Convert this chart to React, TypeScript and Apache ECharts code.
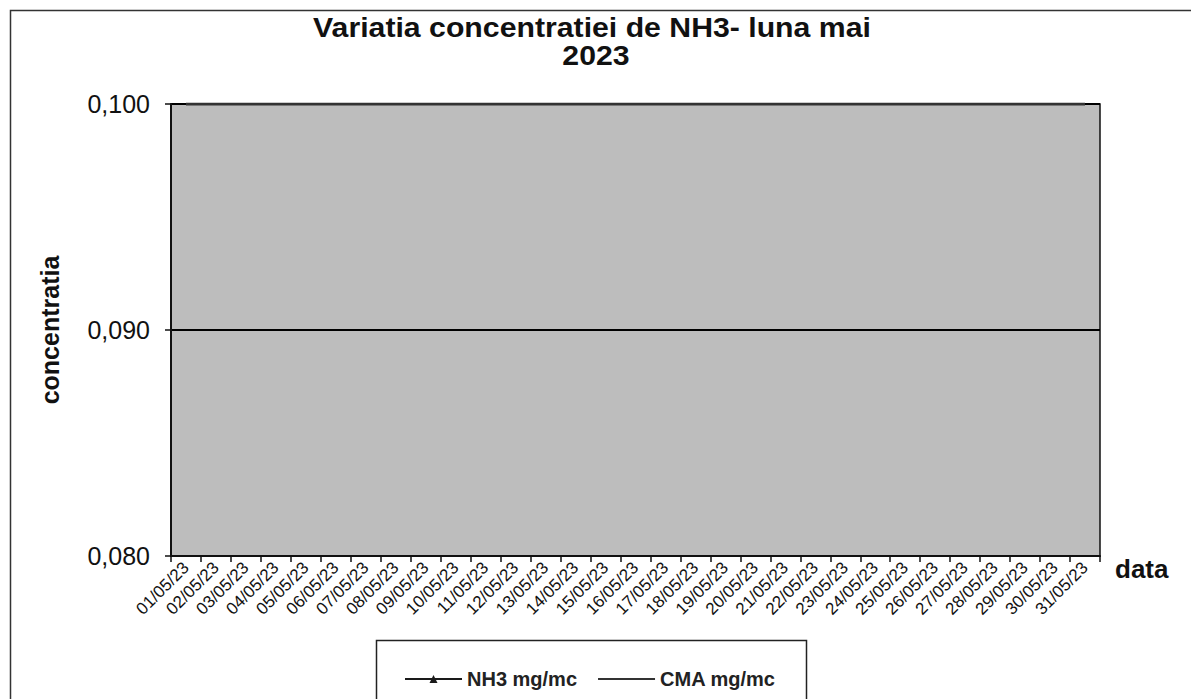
import React, { useEffect, useRef } from "react";
import * as echarts from "echarts";

const titleLines = ["Variatia concentratiei de NH3- luna mai", "2023"];
const days = [
  "01/05/23", "02/05/23", "03/05/23", "04/05/23", "05/05/23", "06/05/23", "07/05/23", "08/05/23",
  "09/05/23", "10/05/23", "11/05/23", "12/05/23", "13/05/23", "14/05/23", "15/05/23", "16/05/23",
  "17/05/23", "18/05/23", "19/05/23", "20/05/23", "21/05/23", "22/05/23", "23/05/23", "24/05/23",
  "25/05/23", "26/05/23", "27/05/23", "28/05/23", "29/05/23", "30/05/23", "31/05/23",
];
// NH3 values lie below the visible axis range (no NH3 line is visible in the reference)
const nh3Values: (number | null)[] = days.map(() => null);
// CMA limit value (0,100 mg/mc)
const cmaValues: number[] = days.map(() => 0.1);
const yMin = 0.08;
const yMax = 0.1;
const yInterval = 0.01;
const seriesNames = ["NH3 mg/mc", "CMA mg/mc"];
const xName = "data";
const yName = "concentratia";

const FONT = "'Liberation Sans', Arial, sans-serif";

export default function App() {
  const ref = useRef<HTMLDivElement>(null);
  useEffect(() => {
    if (!ref.current) return;
    const chart = echarts.init(ref.current, undefined, { renderer: "svg" });
    chart.setOption({
      animation: false,
      backgroundColor: "#ffffff",
      textStyle: { fontFamily: FONT },
      graphic: [
        {
          type: "rect",
          shape: { x: 10.5, y: 10.5, width: 1200, height: 720 },
          style: { fill: "none", stroke: "#333", lineWidth: 1.5 },
          silent: true,
          z: -1,
        },
        {
          type: "text",
          x: 592,
          y: 28,
          scaleX: 1.12,
          style: {
            text: titleLines[0],
            font: `bold 27px ${FONT}`,
            fill: "#111",
            textAlign: "center",
            textVerticalAlign: "middle",
          },
          silent: true,
        },
        {
          type: "text",
          x: 596,
          y: 56,
          scaleX: 1.12,
          style: {
            text: titleLines[1],
            font: `bold 27px ${FONT}`,
            fill: "#111",
            textAlign: "center",
            textVerticalAlign: "middle",
          },
          silent: true,
        },
        {
          type: "rect",
          shape: { x: 376.5, y: 640.5, width: 430, height: 80 },
          style: { fill: "#fff", stroke: "#222", lineWidth: 1.5 },
          silent: true,
          z: 1,
        },
      ],
      legend: {
        data: [
          { name: seriesNames[0] },
          { name: seriesNames[1], itemStyle: { opacity: 0 } },
        ],
        left: 399,
        top: 664,
        itemWidth: 57,
        itemHeight: 10,
        itemGap: 20,
        z: 5,
        textStyle: { fontFamily: FONT, fontSize: 20, fontWeight: "bold", color: "#222" },
      },
      grid: {
        left: 171,
        right: 91,
        top: 104,
        bottom: 143,
        show: true,
        backgroundColor: "#bdbdbd",
        borderColor: "#111",
        borderWidth: 1.5,
      },
      xAxis: {
        type: "category",
        data: days,
        boundaryGap: true,
        name: xName,
        nameLocation: "end",
        nameGap: 15,
        nameTextStyle: {
          fontFamily: FONT,
          fontSize: 26,
          fontWeight: "bold",
          color: "#111",
          verticalAlign: "top",
          padding: [0, 0, 0, 0],
        },
        axisLine: { show: true, lineStyle: { color: "#111", width: 2 } },
        axisTick: { show: true, alignWithLabel: false, length: 6, lineStyle: { color: "#111", width: 1.5 } },
        axisLabel: {
          rotate: 45,
          interval: 0,
          margin: 9,
          fontFamily: FONT,
          fontSize: 17,
          color: "#111",
        },
        splitLine: { show: false },
      },
      yAxis: {
        type: "value",
        min: yMin,
        max: yMax,
        interval: yInterval,
        name: yName,
        nameLocation: "middle",
        nameGap: 109,
        nameRotate: 90,
        nameTextStyle: { fontFamily: FONT, fontSize: 25, fontWeight: "bold", color: "#111" },
        axisLine: { show: true, lineStyle: { color: "#111", width: 2 } },
        axisTick: { show: true, length: 6, lineStyle: { color: "#111", width: 1.5 } },
        axisLabel: {
          margin: 21,
          fontFamily: FONT,
          fontSize: 25,
          color: "#111",
          formatter: (v: number) => v.toFixed(3).replace(".", ","),
        },
        splitLine: { show: true, lineStyle: { color: "#000", width: 2 } },
      },
      series: [
        {
          name: seriesNames[0],
          type: "line",
          data: nh3Values,
          symbol: "triangle",
          symbolSize: 7,
          itemStyle: { color: "#1a1a1a" },
          lineStyle: { color: "#1a1a1a", width: 3 },
        },
        {
          name: seriesNames[1],
          type: "line",
          data: cmaValues,
          symbol: "none",
          itemStyle: { color: "#444" },
          lineStyle: { color: "#333", width: 3 },
        },
      ],
    });
    return () => chart.dispose();
  }, []);
  return (
    <div
      ref={ref}
      style={{ position: "fixed", left: 0, top: 0, width: 1191, height: 699 }}
    />
  );
}
